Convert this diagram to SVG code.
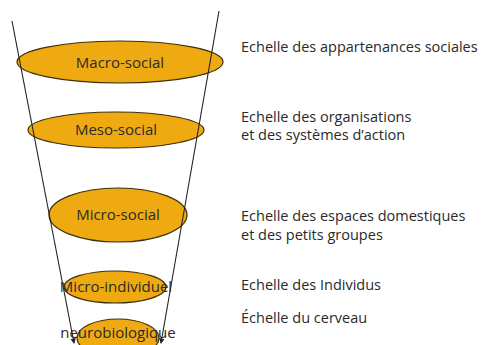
<svg xmlns="http://www.w3.org/2000/svg" width="483" height="345" viewBox="0 0 483 345">
<style>
.ell{fill:#EFAA12;stroke:#3d2f0c;stroke-width:1.2}
.lbl{font-family:"Open Sans","Noto Sans",sans-serif;font-size:15px;fill:#2a2a2a;text-anchor:middle}
.desc{font-family:"Open Sans","Noto Sans",sans-serif;font-size:14.5px;fill:#2a2a2a}
.ln{stroke:#222;stroke-width:1.1;fill:none}
</style>
<defs>
<marker id="ah" viewBox="0 0 6 6" refX="5" refY="3" markerWidth="5" markerHeight="5" orient="auto"><path d="M0,0 L6,3 L0,6 z" fill="#222"/></marker>
</defs>
<rect width="483" height="345" fill="#fff"/>
<g id="macro"><ellipse class="ell" cx="120" cy="62" rx="103" ry="21"/><text class="lbl" x="120" y="68">Macro-social</text></g>
<g id="meso"><ellipse class="ell" cx="116" cy="130" rx="88" ry="18"/><text class="lbl" x="116" y="135">Meso-social</text></g>
<g id="microsocial"><ellipse class="ell" cx="118" cy="215" rx="69" ry="27"/><text class="lbl" x="118" y="220">Micro-social</text></g>
<g id="microindividuel"><ellipse class="ell" cx="115" cy="287" rx="51" ry="16"/><text class="lbl" x="116" y="292">Micro-individuel</text></g>
<g id="neuro"><ellipse class="ell" cx="118" cy="338" rx="41" ry="19"/><text class="lbl" x="118" y="338">neurobiologique</text></g>
<g id="connectors">
<line class="ln" x1="12" y1="21" x2="74" y2="343" marker-end="url(#ah)"/>
<line class="ln" x1="219" y1="11" x2="161" y2="343" marker-end="url(#ah)"/>
</g>
<g id="descriptions">
<text class="desc" x="241" y="52">Echelle des appartenances sociales</text>
<text class="desc" x="241" y="122">Echelle des organisations</text>
<text class="desc" x="241" y="140">et des systèmes d’action</text>
<text class="desc" x="241" y="221">Echelle des espaces domestiques</text>
<text class="desc" x="241" y="240">et des petits groupes</text>
<text class="desc" x="241" y="290">Echelle des Individus</text>
<text class="desc" x="241" y="323">Échelle du cerveau</text>
</g>
</svg>
